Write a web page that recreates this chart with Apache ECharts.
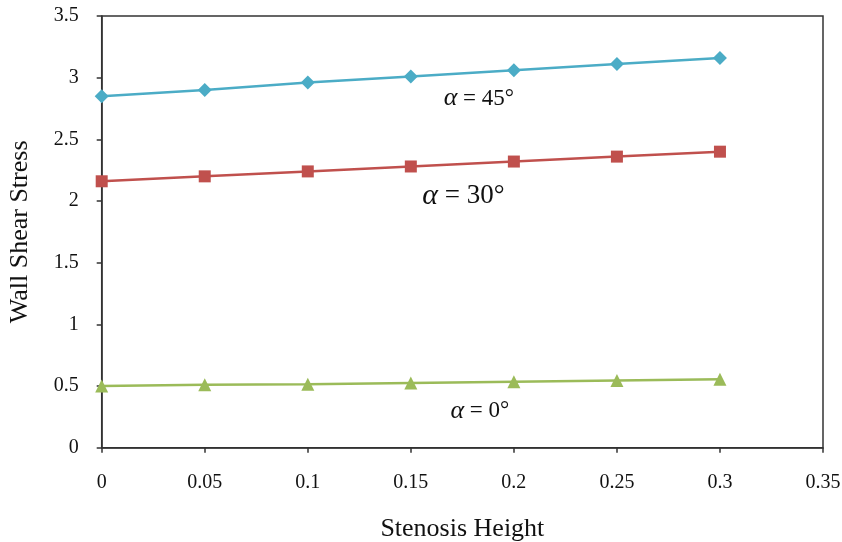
<!DOCTYPE html>
<html><head><meta charset="utf-8">
<script src="https://cdn.jsdelivr.net/npm/echarts@6/dist/echarts.min.js"></script>
<style>html,body{margin:0;padding:0;background:#fff}#c{width:842px;height:542px}</style>
</head><body><div id="c"></div>
<script>
const heights = [0, 0.05, 0.1, 0.15, 0.2, 0.25, 0.3];
const wss45 = [2.85, 2.90, 2.96, 3.01, 3.06, 3.11, 3.16];
const wss30 = [2.16, 2.20, 2.24, 2.28, 2.32, 2.36, 2.40];
const wss0 = [0.50, 0.51, 0.515, 0.525, 0.535, 0.545, 0.555];
const xTicks = [0, 0.05, 0.1, 0.15, 0.2, 0.25, 0.3, 0.35];
const yTicks = [0, 0.5, 1, 1.5, 2, 2.5, 3, 3.5];
const annotations = [
  {name: '45', x: 0.183, y: 2.83, size: 23},
  {name: '30', x: 0.1755, y: 2.04, size: 27},
  {name: '0', x: 0.1835, y: 0.30, size: 23}
];
const serif = '"Liberation Serif", "Times New Roman", serif';
const zip = (xs, ys) => xs.map((x, i) => [x, ys[i]]);
function ann(a) {
  return {
    symbol: 'circle', symbolSize: 1,
    itemStyle: {color: 'rgba(0,0,0,0)'},
    silent: true,
    data: [{coord: [a.x, a.y], label: {
      show: true, position: 'inside', fontFamily: serif, fontSize: a.size, color: '#111',
      formatter: '{a|α}{t| = ' + a.name + '°}',
      rich: {
        a: {fontFamily: serif, fontStyle: 'italic', fontSize: a.size + 3, color: '#111'},
        t: {fontFamily: serif, fontSize: a.size, color: '#111'}
      }
    }}]
  };
}
const chart = echarts.init(document.getElementById('c'));
chart.setOption({
  animation: false,
  grid: {left: 101.7, right: 19, top: 16, bottom: 94.3, containLabel: false, outerBoundsMode: 'none',
         show: true, borderColor: '#333', borderWidth: 1.5},
  xAxis: {
    type: 'value', min: 0, max: 0.35, interval: 0.05,
    axisLine: {show: true, lineStyle: {color: '#333', width: 1.5}},
    axisTick: {show: true, length: 5, lineStyle: {color: '#333', width: 1.5}},
    axisLabel: {margin: 25, fontFamily: serif, fontSize: 20, color: '#111',
      formatter: v => { const t = xTicks.find(k => Math.abs(k - v) < 1e-9); return t === undefined ? '' : String(t); }},
    splitLine: {show: false},
    name: 'Stenosis Height', nameLocation: 'middle', nameGap: 68,
    nameTextStyle: {fontFamily: serif, fontSize: 26, color: '#111'}
  },
  yAxis: {
    type: 'value', min: 0, max: 3.5, interval: 0.5,
    axisLine: {show: true, lineStyle: {color: '#333', width: 1.5}},
    axisTick: {show: true, length: 5, lineStyle: {color: '#333', width: 1.5}},
    axisLabel: {margin: 23, fontFamily: serif, fontSize: 20, color: '#111',
      formatter: v => { const t = yTicks.find(k => Math.abs(k - v) < 1e-9); return t === undefined ? '' : String(t); }},
    splitLine: {show: false},
    name: 'Wall Shear Stress', nameLocation: 'middle', nameGap: 69,
    nameTextStyle: {fontFamily: serif, fontSize: 26, color: '#111'}
  },
  series: [
    {type: 'line', data: zip(heights, wss45), symbol: 'diamond', symbolSize: 14,
     lineStyle: {color: '#4BACC6', width: 2.5}, itemStyle: {color: '#4BACC6'}, markPoint: ann(annotations[0])},
    {type: 'line', data: zip(heights, wss30), symbol: 'rect', symbolSize: 12,
     lineStyle: {color: '#C0504D', width: 2.5}, itemStyle: {color: '#C0504D'}, markPoint: ann(annotations[1])},
    {type: 'line', data: zip(heights, wss0), symbol: 'triangle', symbolSize: 13,
     lineStyle: {color: '#9BBB59', width: 2.5}, itemStyle: {color: '#9BBB59'}, markPoint: ann(annotations[2])}
  ]
});
</script></body></html>
